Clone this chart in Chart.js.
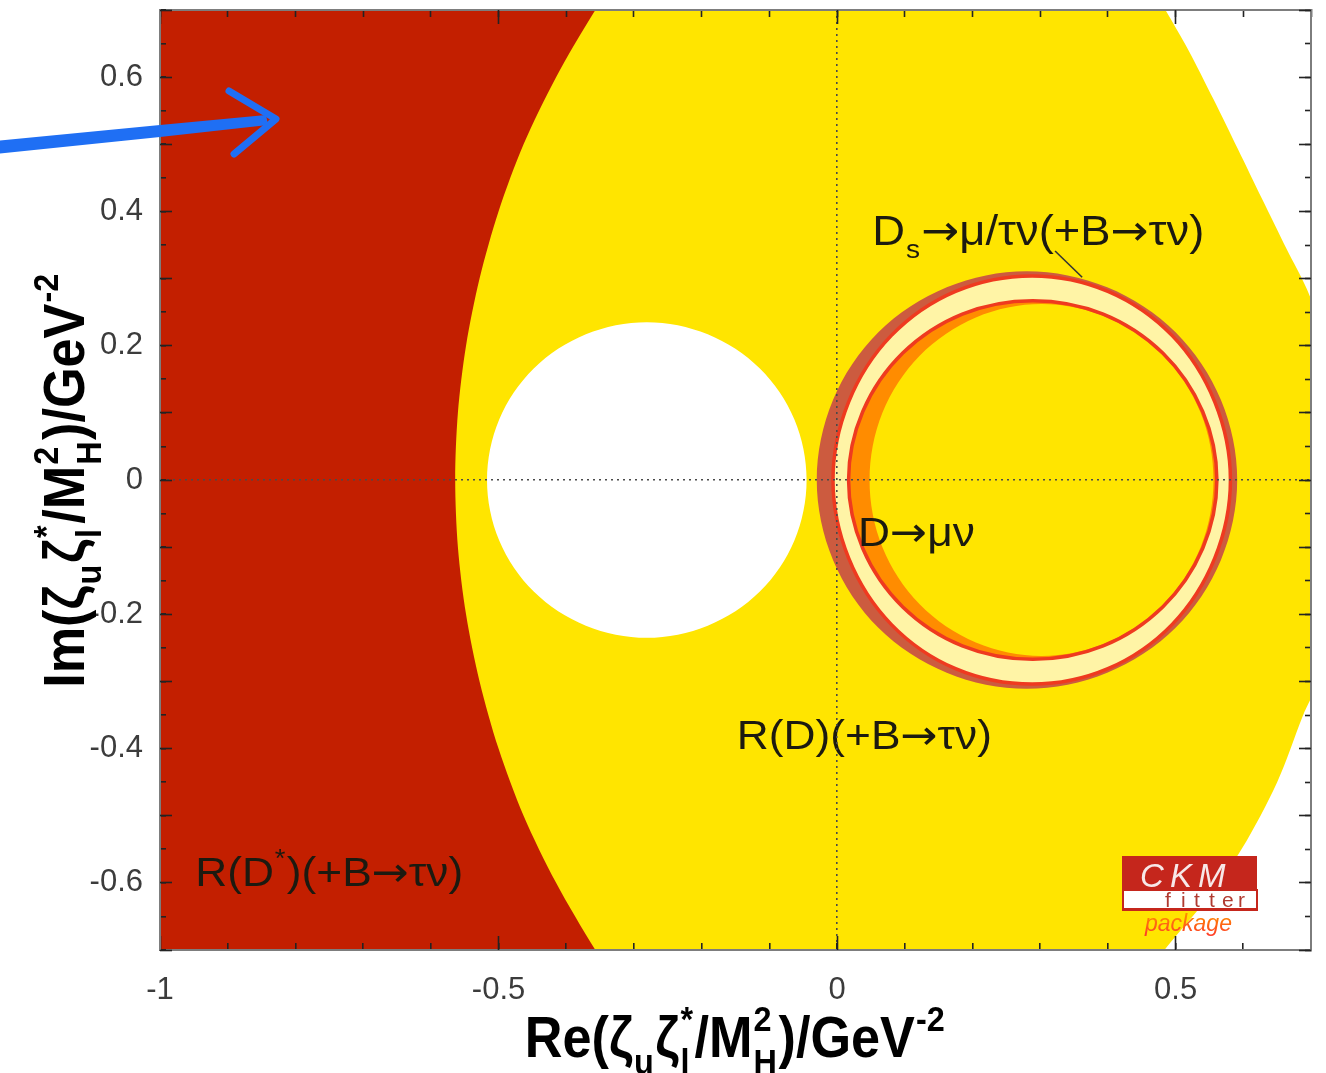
<!DOCTYPE html>
<html>
<head>
<meta charset="utf-8">
<script src="https://cdn.jsdelivr.net/npm/chart.js@4.4.1/dist/chart.umd.min.js"></script>
<style>
html,body{margin:0;padding:0;background:#fff;}
canvas{display:block;}
</style>
</head>
<body>
<canvas id="c" width="1326" height="1073"></canvas>
<script>
// ---------------- data ----------------
const xTickValues = [-1, -0.5, 0, 0.5];
const xTickLabels = ['-1', '-0.5', '0', '0.5'];
const yTickValues = [-0.6, -0.4, -0.2, 0, 0.2, 0.4, 0.6];
const yTickLabels = ['-0.6', '-0.4', '-0.2', '0', '0.2', '0.4', '0.6'];

// R(D)(+B->tau nu) allowed region (yellow), right-hand contour
const yellowRegion = [[-1.1,0.76],[0.45,0.76],[0.485,0.70],[0.518,0.642],[0.556,0.567],[0.592,0.493],[0.628,0.418],[0.664,0.344],[0.694,0.284],[0.725,0.20],[0.740,0.10],[0.745,0],[0.740,-0.10],[0.727,-0.20],[0.710,-0.30],[0.688,-0.351],[0.650,-0.45],[0.598,-0.549],[0.545,-0.625],[0.485,-0.698],[0.44,-0.76],[-1.1,-0.76],[-1.1,0.76]];
// R(D*)(+B->tau nu) region (dark red), left-hand contour
const redRegion = [[-1.1,0.76],[-0.316,0.76],[-0.357,0.70],[-0.415,0.60],[-0.463,0.50],[-0.500,0.40],[-0.528,0.30],[-0.548,0.20],[-0.560,0.10],[-0.564,0],[-0.560,-0.10],[-0.548,-0.20],[-0.528,-0.30],[-0.500,-0.40],[-0.463,-0.50],[-0.415,-0.60],[-0.357,-0.70],[-0.316,-0.76],[-1.1,-0.76],[-1.1,0.76]];
// excluded hole inside the yellow region
const whiteHole = [[-0.045,0],[-0.063,0.090],[-0.114,0.166],[-0.191,0.217],[-0.281,0.235],[-0.371,0.217],[-0.448,0.166],[-0.499,0.090],[-0.517,0],[-0.499,-0.090],[-0.448,-0.166],[-0.371,-0.217],[-0.281,-0.235],[-0.191,-0.217],[-0.114,-0.166],[-0.063,-0.090],[-0.045,0]];
// D -> mu nu band, outer edge
const brownBand = [[0.591,0],[0.567,0.119],[0.500,0.220],[0.399,0.287],[0.280,0.311],[0.162,0.287],[0.061,0.220],[-0.006,0.119],[-0.030,0],[-0.006,-0.119],[0.061,-0.220],[0.162,-0.287],[0.280,-0.311],[0.399,-0.287],[0.500,-0.220],[0.567,-0.119],[0.591,0]];
// Ds -> mu/tau nu ring, outer contour
const dsOuter = [[0.581,0],[0.558,0.116],[0.495,0.215],[0.400,0.281],[0.288,0.304],[0.175,0.281],[0.080,0.215],[0.017,0.116],[-0.006,0],[0.017,-0.116],[0.080,-0.215],[0.175,-0.281],[0.288,-0.304],[0.400,-0.281],[0.495,-0.215],[0.558,-0.116],[0.581,0]];
// Ds -> mu/tau nu ring, inner contour
const dsInner = [[0.561,0],[0.540,0.102],[0.481,0.189],[0.393,0.247],[0.289,0.267],[0.185,0.247],[0.097,0.189],[0.038,0.102],[0.017,0],[0.038,-0.102],[0.097,-0.189],[0.185,-0.247],[0.289,-0.267],[0.393,-0.247],[0.481,-0.189],[0.540,-0.102],[0.561,0]];
// D -> mu nu band, inner edge
const innerCore = [[0.556,0],[0.537,0.100],[0.482,0.185],[0.399,0.242],[0.302,0.262],[0.205,0.242],[0.122,0.185],[0.067,0.100],[0.048,0],[0.067,-0.100],[0.122,-0.185],[0.205,-0.242],[0.302,-0.262],[0.399,-0.242],[0.482,-0.185],[0.537,-0.100],[0.556,0]];

// ---------------- text ----------------
const xTitleParts = [{t:'Re(ζ'},{sub:'u'},{t:'ζ'},{sub:'l',sup:'*'},{t:'/M'},{sub:'H',sup:'2'},{t:')/GeV'},{sup:'-2'}];
const yTitleParts = [{t:'Im(ζ'},{sub:'u'},{t:'ζ'},{sub:'l',sup:'*'},{t:'/M'},{sub:'H',sup:'2'},{t:')/GeV'},{sup:'-2'}];
const plotLabels = [
  {parts:[{t:'D'},{sub:'s'},{t:'→μ/τν(+B→τν)'}], x:0.052, y:0.350, size:42},
  {parts:[{t:'D→μν'}], x:0.031, y:-0.098, size:41},
  {parts:[{t:'R(D)(+B→τν)'}], x:-0.148, y:-0.400, size:41},
  {parts:[{t:'R(D'},{sup:'*'},{t:')(+B→τν)'}], x:-0.948, y:-0.604, size:41}
];
const leader = {from:[0.322,0.341], to:[0.362,0.302]};

// ---------------- helpers ----------------
const FONT = "'Liberation Sans', Arial, Helvetica, sans-serif";
const ARROW_FONT = "'DejaVu Sans', 'Liberation Sans', sans-serif";
const near = (a, b) => Math.abs(a - b) < 1e-6;
const labelFor = (vals, labs) => (v) => { const i = vals.findIndex(t => near(t, v)); return i >= 0 ? labs[i] : ''; };
const xy = a => a.map(([x, y]) => ({x, y}));
// wrap a closed contour so the spline has neighbours on both sides of the seam
const loop = a => [a[a.length - 2], ...a, a[1]];

function splitArrows(parts) {
  const out = [];
  for (const p of parts) {
    if (p.t === undefined) { out.push(p); continue; }
    p.t.split(/(→)/).forEach(s => { if (s) out.push(s === '→' ? {t:s, fam:ARROW_FONT, scale:1.0} : {t:s}); });
  }
  return out;
}

function drawRich(ctx, parts, o) {
  const f = (sz, fam) => `${o.style || 'normal'} ${o.weight || 'normal'} ${sz}px ${fam || FONT}`;
  const ss = o.size * 0.62;
  let w = 0;
  const items = [];
  for (const p of splitArrows(parts)) {
    if (p.t !== undefined) {
      const sz = o.size * (p.scale || 1);
      ctx.font = f(sz, p.fam);
      items.push({t:p.t, x:w, dy:0, sz, fam:p.fam});
      w += ctx.measureText(p.t).width;
    } else {
      ctx.font = f(ss);
      let pw = 0;
      if (p.sub) { items.push({t:p.sub, x:w + o.size*0.02, dy:o.size*0.30, sz:ss}); pw = Math.max(pw, ctx.measureText(p.sub).width); }
      if (p.sup) { items.push({t:p.sup, x:w + o.size*0.02, dy:-o.size*0.45, sz:ss}); pw = Math.max(pw, ctx.measureText(p.sup).width); }
      w += pw + o.size*0.05;
    }
  }
  ctx.save();
  ctx.translate(o.x, o.y);
  if (o.rotate) ctx.rotate(o.rotate);
  ctx.scale(o.sx || 1, 1);
  const x0 = o.align === 'center' ? -w / 2 : 0;
  ctx.fillStyle = o.color;
  ctx.textAlign = 'left';
  ctx.textBaseline = 'alphabetic';
  for (const it of items) { ctx.font = f(it.sz, it.fam); ctx.fillText(it.t, x0 + it.x, it.dy); }
  ctx.restore();
}

function drawArrow(ctx) {
  ctx.save();
  ctx.fillStyle = '#1f6ff4';
  ctx.strokeStyle = '#1f6ff4';
  ctx.lineCap = 'round';
  ctx.lineJoin = 'round';
  ctx.beginPath();
  ctx.moveTo(-5, 141);
  ctx.lineTo(160, 125);
  ctx.lineTo(266, 115);
  ctx.lineTo(268, 125);
  ctx.lineTo(160, 137);
  ctx.lineTo(-5, 154);
  ctx.closePath();
  ctx.fill();
  ctx.lineWidth = 7;
  ctx.beginPath();
  ctx.moveTo(229, 91);
  ctx.lineTo(276, 119);
  ctx.lineTo(234, 154);
  ctx.stroke();
  ctx.restore();
}

function drawLogo(ctx) {
  ctx.save();
  const red = '#c5261c';
  ctx.fillStyle = red;
  ctx.fillRect(1122, 856, 135, 34);
  ctx.fillStyle = '#ffffff';
  ctx.fillRect(1123, 890, 134, 20);
  ctx.strokeStyle = red;
  ctx.lineWidth = 2;
  ctx.strokeRect(1123, 890, 134, 20);
  ctx.fillStyle = red;
  ctx.fillRect(1122, 908, 136, 3);
  ctx.fillStyle = '#f7e8e8';
  ctx.font = `italic 33px ${FONT}`;
  ctx.textBaseline = 'alphabetic';
  [['C',1140],['K',1170],['M',1198]].forEach(([c, x]) => ctx.fillText(c, x, 887));
  ctx.fillStyle = '#b03a30';
  ctx.font = `21px ${FONT}`;
  [['f',1165],['i',1181],['t',1194],['t',1209],['e',1222],['r',1238]].forEach(([c, x]) => ctx.fillText(c, x, 907));
  const g = ctx.createLinearGradient(0, 915, 0, 936);
  g.addColorStop(0, '#ff8a00');
  g.addColorStop(1, '#ff3a2a');
  ctx.fillStyle = g;
  ctx.font = `italic 23px ${FONT}`;
  ctx.fillText('package', 1145, 931);
  ctx.restore();
}

const overlay = {
  id: 'overlay',
  afterDatasetsDraw(chart) {
    const ctx = chart.ctx, sx = chart.scales.x, sy = chart.scales.y;
    ctx.save();
    const a = chart.chartArea;
    ctx.beginPath(); ctx.rect(a.left, a.top, a.right - a.left, a.bottom - a.top); ctx.clip();
    for (const L of plotLabels) {
      drawRich(ctx, L.parts, {x: sx.getPixelForValue(L.x), y: sy.getPixelForValue(L.y), size: L.size, color: '#1c1a10', sx: 1.08});
    }
    ctx.strokeStyle = '#333';
    ctx.lineWidth = 1.6;
    ctx.beginPath();
    ctx.moveTo(sx.getPixelForValue(leader.from[0]), sy.getPixelForValue(leader.from[1]));
    ctx.lineTo(sx.getPixelForValue(leader.to[0]), sy.getPixelForValue(leader.to[1]));
    ctx.stroke();
    ctx.restore();
  },
  afterDraw(chart) {
    const ctx = chart.ctx, a = chart.chartArea;
    drawLogo(ctx);
    drawRich(ctx, xTitleParts, {x:(a.left + a.right)/2, y:1057, size:58, weight:'bold', color:'#000', align:'center', sx:0.9});
    drawRich(ctx, yTitleParts, {x:84, y:(a.top + a.bottom)/2, size:58, weight:'bold', color:'#000', align:'center', sx:0.9, rotate:-Math.PI/2});
    drawArrow(ctx);
  }
};

// ---------------- chart ----------------
const frameColor = '#7d7d7d';
const tickColor = '#232323';
const zeroLine = ctx => (ctx.tick && near(ctx.tick.value, 0)) ? '#4a4a4a' : 'rgba(0,0,0,0)';
const fixSize = (isX, size) => sc => {
  if (isX) sc.height = size; else sc.width = size;
  sc.paddingTop = 0; sc.paddingBottom = 0; sc.paddingLeft = 0; sc.paddingRight = 0;
};

function tickScale(position, isX, step, len, weight, size, extra) {
  const s = {
    type: 'linear', position, weight,
    min: isX ? -1 : -0.7, max: 0.7,
    afterFit: fixSize(isX, size),
    ticks: {display: false, stepSize: step, autoSkip: false, includeBounds: false},
    grid: {drawOnChartArea: false, tickLength: len, tickColor, tickWidth: 1.6, z: 1},
    border: {display: false, z: 1}
  };
  return Object.assign(s, extra || {});
}

const layers = [
  {data: yellowRegion, bg: '#ffe500', tension: 0.3},
  {data: redRegion, bg: '#c31f00', tension: 0.3},
  {data: loop(whiteHole), bg: '#ffffff', tension: 0.34},
  {data: loop(brownBand), bg: '#cc5b3f', tension: 0.34},
  {data: loop(dsOuter), bg: '#fff4a6', tension: 0.34},
  {data: loop(dsInner), bg: '#ff8c00', tension: 0.34},
  {data: loop(innerCore), bg: '#ffe500', tension: 0.34},
  {data: loop(dsOuter), line: '#ef3a1f', width: 3.5, tension: 0.34},
  {data: loop(dsInner), line: '#ef3a1f', width: 3.5, tension: 0.34}
];

const datasets = layers.map((L, i) => {
  const n = L.data.length;
  const ds = {
    data: xy(L.data),
    order: layers.length - i,
    showLine: true,
    tension: L.tension,
    pointRadius: 0,
    pointHoverRadius: 0,
    fill: L.bg ? 'shape' : false,
    backgroundColor: L.bg || 'rgba(0,0,0,0)',
    borderColor: L.line || 'rgba(0,0,0,0)',
    borderWidth: L.line ? L.width : 0
  };
  if (L.line) {
    // hide the two overlapping seam segments of the wrapped contour
    ds.segment = {borderColor: c => (c.p0DataIndex === 0 || c.p1DataIndex === n - 1) ? 'rgba(0,0,0,0)' : undefined};
  }
  return ds;
});

new Chart(document.getElementById('c'), {
  type: 'line',
  data: {datasets},
  plugins: [overlay],
  options: {
    responsive: false,
    animation: false,
    events: [],
    devicePixelRatio: 1,
    layout: {padding: 0, autoPadding: false},
    elements: {line: {capBezierPoints: false}},
    plugins: {legend: {display: false}, tooltip: {enabled: false}, title: {display: false}},
    scales: {
      x: {
        type: 'linear', position: 'bottom', weight: 1, min: -1, max: 0.7,
        afterFit: fixSize(true, 123),
        ticks: {stepSize: 0.1, autoSkip: false, maxRotation: 0, includeBounds: false, padding: 29,
                color: '#3c3c3c', font: {family: FONT, size: 31}, callback: labelFor(xTickValues, xTickLabels)},
        grid: {drawOnChartArea: true, color: zeroLine, lineWidth: 1.6, tickLength: -7, tickColor, tickWidth: 1.6, z: 1},
        border: {display: true, color: frameColor, width: 2, dash: [2, 4], z: 1}
      },
      xMajor: tickScale('bottom', true, 0.5, -14, 0, 0),
      xTop: tickScale('top', true, 0.1, -7, 1, 10, {border: {display: true, color: frameColor, width: 2, z: 1}}),
      xTopMajor: tickScale('top', true, 0.5, -14, 0, 0),
      y: {
        type: 'linear', position: 'left', weight: 1, min: -0.7, max: 0.7,
        afterFit: fixSize(false, 160),
        ticks: {stepSize: 0.05, autoSkip: false, includeBounds: false, padding: 23,
                color: '#3c3c3c', font: {family: FONT, size: 31}, callback: labelFor(yTickValues, yTickLabels)},
        grid: {drawOnChartArea: true, color: zeroLine, lineWidth: 1.6, tickLength: -6, tickColor, tickWidth: 1.6, z: 1},
        border: {display: true, color: frameColor, width: 2, dash: [2, 4], z: 1}
      },
      yMajor: tickScale('left', false, 0.1, -12, 0, 0),
      yRight: tickScale('right', false, 0.05, -6, 1, 15, {border: {display: true, color: frameColor, width: 2, z: 1}}),
      yRightMajor: tickScale('right', false, 0.1, -12, 0, 0)
    }
  }
});
</script>
</body>
</html>
